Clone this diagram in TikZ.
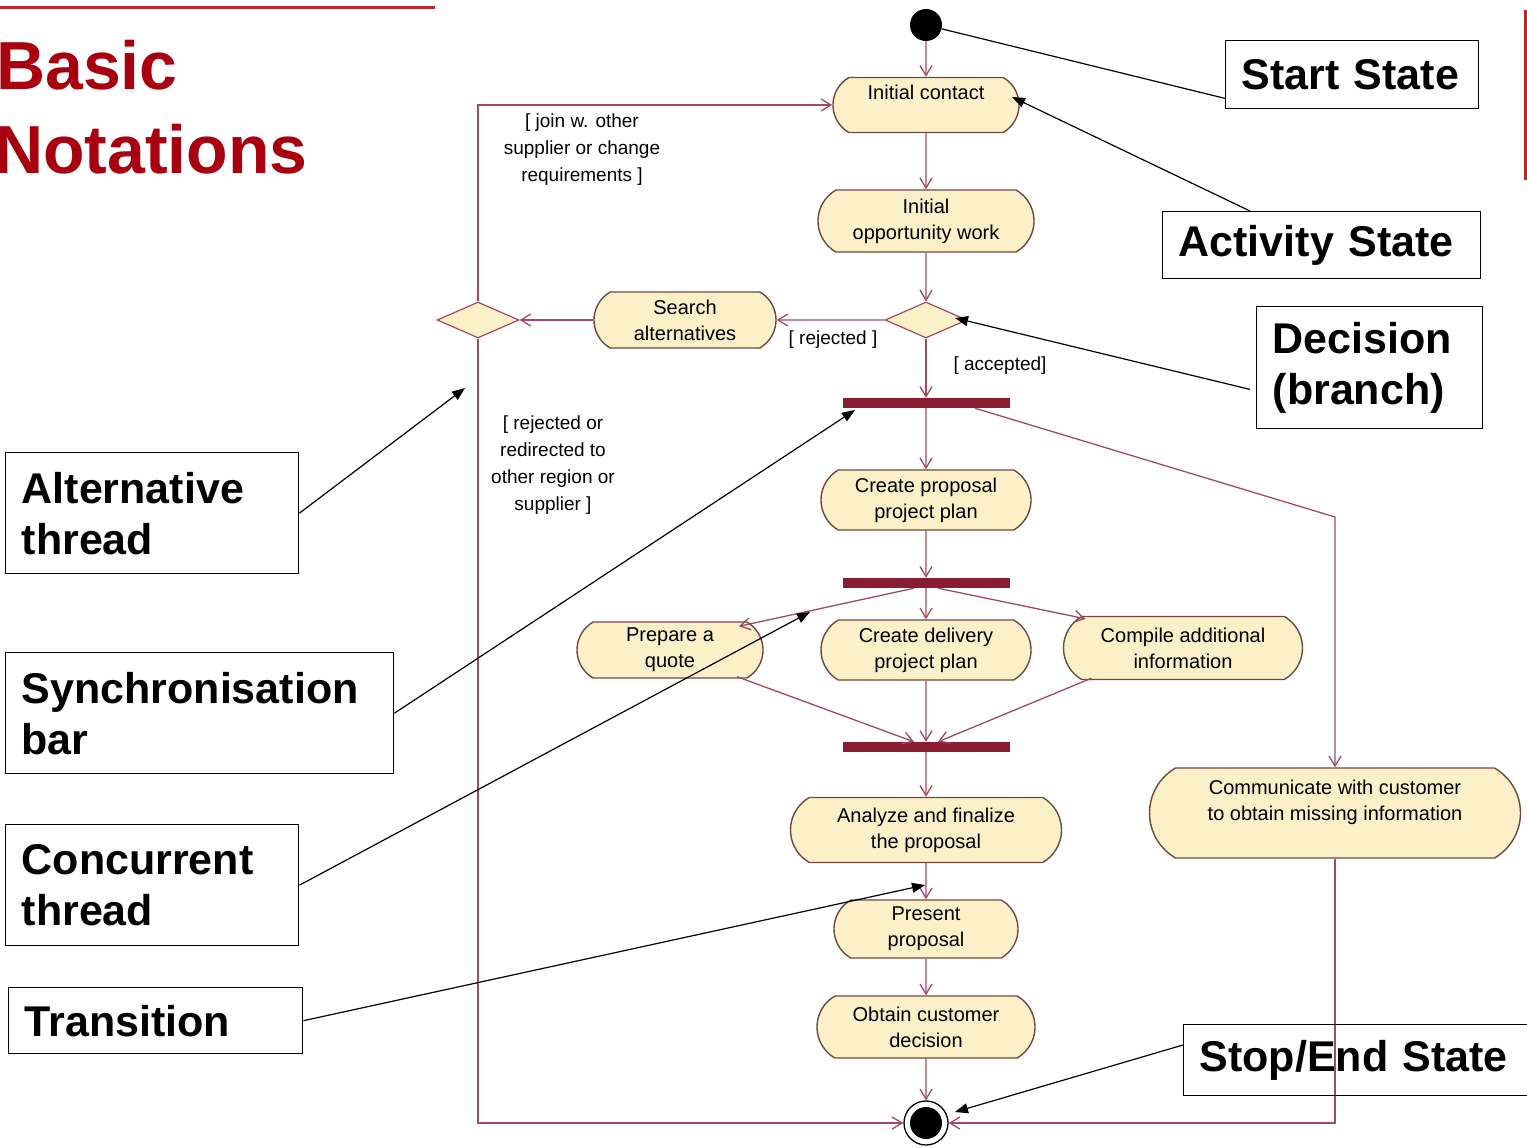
\documentclass[tikz,border=0pt]{standalone}
\usepackage{fontspec}
\setmainfont{Liberation Sans}
\usetikzlibrary{arrows.meta,shapes.misc,shapes.geometric,calc}
\definecolor{conn}{HTML}{A34A60}
\definecolor{actfill}{HTML}{FBF0C8}
\definecolor{actline}{HTML}{6E4A3E}
\definecolor{barcol}{HTML}{8A1C32}
\definecolor{titlered}{HTML}{A8000F}
\definecolor{framered}{HTML}{B8262E}
\begin{document}
\begin{tikzpicture}[x=1pt,y=-1pt,
  act/.style={rounded rectangle, rounded rectangle arc length=120, draw=actline, fill=actfill,
    line width=1.4pt, align=center, font=\fontsize{20}{26}\selectfont, inner sep=2pt},
  dia/.style={diamond, draw=conn, fill=actfill, line width=1.2pt, minimum width=82pt,
    minimum height=36pt, inner sep=0pt, aspect=2.3},
  syncbar/.style={rectangle, fill=barcol, minimum width=167pt, minimum height=10pt, inner sep=0pt},
  flow/.style={draw=conn, line width=1.3pt, -{Straight Barb[length=10pt,width=12pt]}},
  guard/.style={font=\fontsize{19}{27}\selectfont, align=center, inner sep=0pt},
  annot/.style={draw=black, line width=1.4pt, font=\bfseries\fontsize{43}{51}\selectfont,
    align=left, anchor=north west, inner xsep=16pt, inner ysep=0pt},
  annline/.style={draw=black, line width=1.2pt, -{Triangle[length=13pt,width=10pt]}}
]
\useasboundingbox (0,0) rectangle (1527,1148);

% slide frame and title
\draw[framered, line width=3pt] (0,8) -- (435,8);
\draw[framered, line width=3pt] (1525,10) -- (1525,180);
\node[anchor=base west, inner sep=0pt, text=titlered, font=\bfseries\fontsize{68}{80}\selectfont] (title1) at (-4,90) {Basic};
\node[anchor=base west, inner sep=0pt, text=titlered, font=\bfseries\fontsize{68}{80}\selectfont] (title2) at (-6,173) {Notations};

% activity diagram
\node[circle, fill=black, minimum size=32pt, inner sep=0pt] (start) at (926,25) {};
\node[act, minimum width=190pt, minimum height=55pt] (init) at (926,105) {Initial contact\\\mbox{}};
\node[act, minimum width=220pt, minimum height=62pt] (opp) at (926,221) {Initial\\opportunity work};
\node[dia] (dec) at (926,320) {};
\node[act, minimum width=186pt, minimum height=56pt] (search) at (685,320) {Search\\alternatives};
\node[dia] (ldia) at (478,320) {};
\node[syncbar] (sync1) at (926,403) {};
\node[act, minimum width=214pt, minimum height=60pt] (cpp) at (926,500) {Create proposal\\project plan};
\node[syncbar] (sync2) at (926,583) {};
\node[act, minimum width=190pt, minimum height=56pt] (quote) at (670,650) {Prepare a\\quote};
\node[act, minimum width=214pt, minimum height=60pt] (cdp) at (926,650) {Create delivery\\project plan};
\node[act, minimum width=243pt, minimum height=63pt] (compile) at (1183,648) {Compile additional\\information};
\node[syncbar] (sync3) at (926,747) {};
\node[act, minimum width=275pt, minimum height=65pt] (analyze) at (926,830) {Analyze and finalize\\the proposal};
\node[act, minimum width=188pt, minimum height=58pt] (present) at (926,929) {Present\\proposal};
\node[act, minimum width=222pt, minimum height=62pt] (obtain) at (926,1027) {Obtain customer\\decision};
\node[act, minimum width=375pt, minimum height=90pt] (comm) at (1335,813) {Communicate with customer\\to obtain missing information\\\mbox{}};
\node[circle, draw=black, line width=1.3pt, minimum size=44pt, inner sep=0pt,
  path picture={\fill[black] (path picture bounding box.center) circle (16pt);}] (endst) at (926,1123) {};

% guard labels
\node[guard] (gjoin) at (582,150) {[ join w. other\\supplier or change\\requirements ]};
\node[guard] (grej) at (833,340) {[ rejected ]};
\node[guard] (gacc) at (1000,366) {[ accepted]};
\node[guard] (gred) at (553,465) {[ rejected or\\redirected to\\other region or\\supplier ]};

% transitions
\draw[flow] (start) -- (init);
\draw[flow] (init) -- (opp);
\draw[flow] (opp) -- (dec);
\draw[flow] (dec) -- (search);
\draw[flow] (search) -- (ldia);
\draw[flow] (dec) -- (sync1);
\draw[flow] (sync1) -- (cpp);
\draw[flow] (cpp) -- (sync2);
\draw[flow] (sync2) -- (cdp);
\draw[flow] ($(sync2.south)+(-12,0)$) -- ($(quote.north east)+(-8,5)$);
\draw[flow] ($(sync2.south)+(12,0)$) -- ($(compile.north west)+(4,3)$);
\draw[flow] (cdp) -- (sync3);
\draw[flow] ($(quote.south east)+(-10,-2)$) -- ($(sync3.north)+(-12,0)$);
\draw[flow] ($(compile.south west)+(10,-2)$) -- ($(sync3.north)+(12,0)$);
\draw[flow] (sync3) -- (analyze);
\draw[flow] (analyze) -- (present);
\draw[flow] (present) -- (obtain);
\draw[flow] (obtain) -- (endst);
\coordinate (rbend) at (1335,517);
\draw[flow] ($(sync1.south)+(49,0)$) -- (rbend) -- (comm.north);
\draw[flow] (comm.south) |- (endst.east);
\draw[flow] (ldia.north) |- (init.west);
\draw[flow] (ldia.south) |- (endst.west);

% notation call-outs
\node[annot, text width=221pt, minimum height=68pt] (lstart) at (1225,40) {Start State};
\node[annot, text width=286pt, minimum height=67pt] (lact) at (1162,211) {Activity State};
\node[annot, text width=194pt, minimum height=122pt] (ldec) at (1256,306) {Decision\\(branch)};
\node[annot, text width=261pt, minimum height=121pt] (lalt) at (5,452) {Alternative\\thread};
\node[annot, text width=356pt, minimum height=121pt] (lsync) at (5,652) {Synchronisation\\bar};
\node[annot, text width=261pt, minimum height=121pt] (lconc) at (5,824) {Concurrent\\thread};
\node[annot, text width=262pt, minimum height=66pt] (ltrans) at (8,987) {Transition};
\node[annot, text width=318pt, minimum height=71pt] (lstop) at (1183,1024) {Stop/End State};

\coordinate (tAct) at (1012,97);
\coordinate (tDec) at (955,318);
\coordinate (tAlt) at (465,388);
\coordinate (tSync) at (855,410);
\coordinate (tConc) at (810,612);
\coordinate (tTrans) at (925,885);
\coordinate (tStop) at (955,1112);

\draw[draw=black, line width=1.2pt] ($(lstart.south west)+(0,-11)$) -- (start);
\draw[annline] ($(lact.north west)+(88,0)$) -- (tAct);
\draw[annline] ($(ldec.south west)+(-6,-40)$) -- (tDec);
\draw[annline] (lalt.east) -- (tAlt);
\draw[annline] (lsync.east) -- (tSync);
\draw[annline] (lconc.east) -- (tConc);
\draw[annline] (ltrans.east) -- (tTrans);
\draw[annline] ($(lstop.north west)+(0,21)$) -- (tStop);
\end{tikzpicture}
\end{document}
